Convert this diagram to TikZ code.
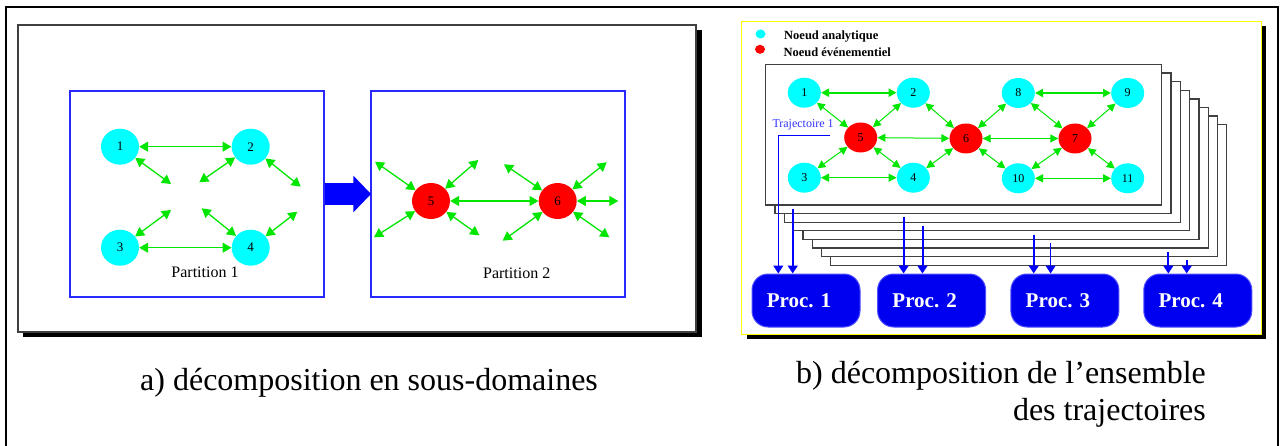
\documentclass[tikz,border=0pt]{standalone}
\usepackage{fontspec}
\setmainfont{Liberation Serif}
\usetikzlibrary{arrows.meta,shapes.geometric}
\definecolor{grn}{RGB}{0,230,0}
\definecolor{cyn}{RGB}{0,255,255}
\definecolor{rd}{RGB}{255,0,0}
\definecolor{bluebox}{RGB}{0,0,240}
\definecolor{blueedge}{RGB}{80,80,255}
\definecolor{partblue}{RGB}{40,40,255}
\definecolor{trajblue}{RGB}{50,50,255}
\definecolor{yel}{RGB}{255,255,0}
\begin{document}
\begin{tikzpicture}[x=1pt,y=-1pt,
  anode/.style={ellipse, fill=cyn, draw=none, minimum width=38pt, minimum height=36pt, inner sep=0pt, font=\fontsize{13}{13}\selectfont},
  enode/.style={anode, fill=rd},
  bnode/.style={ellipse, fill=cyn, draw=none, minimum width=33pt, minimum height=30pt, inner sep=0pt, font=\fontsize{12}{12}\selectfont},
  benode/.style={bnode, fill=rd},
  garrow/.style={draw=grn, line width=1.3pt, arrows={Triangle[length=9pt,width=10pt]-Triangle[length=9pt,width=10pt]}},
  gbarrow/.style={draw=grn, line width=1pt, arrows={Triangle[length=8pt,width=8pt]-Triangle[length=8pt,width=8pt]}},
  gbthick/.style={gbarrow, line width=2pt},
  partbox/.style={rectangle, draw=partblue, line width=1.3pt, fill=white, minimum width=254pt, minimum height=206pt, inner sep=0pt},
  stackrect/.style={draw=black!75, line width=1.3pt, fill=white},
  procbox/.style={rectangle, rounded corners=16pt, fill=bluebox, draw=blueedge, line width=1pt, minimum width=108pt, minimum height=53pt, inner sep=0pt, text=white, font=\bfseries\fontsize{21}{21}\selectfont},
  downarrow/.style={draw=blue, line width=2pt, arrows={-Triangle[length=8pt,width=10pt]}},
  downthin/.style={draw=blue, line width=1pt, arrows={-Triangle[length=8pt,width=10pt]}},
  lbl/.style={font=\fontsize{16}{16}\selectfont, inner sep=0pt},
  legend/.style={font=\bfseries\fontsize{12.5}{12.5}\selectfont, inner sep=0pt, anchor=west},
  caption/.style={font=\fontsize{32}{32}\selectfont, inner sep=0pt}
]
\useasboundingbox (0,0) rectangle (1284,446);
\fill[white] (0,0) rectangle (1284,446);
% outer frame
\draw[black, line width=2pt] (6,446) -- (6,7) -- (1278,7) -- (1278,446);

% ---------- panel a ----------
\fill[black] (23,30) rectangle (701.5,337);
\draw[draw=black!75, fill=white, line width=1.3pt] (18,25) rectangle (696,332);

\node[partbox] (part1) at (197,194) {};
\node[partbox] (part2) at (498,194) {};
\draw[blue, line width=21.7pt, arrows={-Triangle[length=17.7pt,width=35.6pt]}] (part1.east) -- ([xshift=0.7pt]part2.west);

\node[anode] (a1) at (120,146.7) {1};
\node[anode] (a2) at (250.7,146.7) {2};
\node[anode] (a3) at (120,247.7) {3};
\node[anode] (a4) at (250.7,247.7) {4};
\node[lbl] (p1lbl) at (205,272.7) {Partition 1};

\coordinate (f1) at (171,184);
\coordinate (f2) at (199.3,182.3);
\coordinate (f3) at (300.7,186.7);
\coordinate (f4) at (171,210);
\coordinate (f5) at (201.7,208.3);
\coordinate (f6) at (297.3,211.7);
\draw[garrow] (a1) -- (a2);
\draw[garrow] (a3) -- (a4);
\draw[garrow] (a1) -- (f1);
\draw[garrow] (a2) -- (f2);
\draw[garrow] (a2) -- (f3);
\draw[garrow] (a3) -- (f4);
\draw[garrow] (a4) -- (f5);
\draw[garrow] (a4) -- (f6);

\node[enode] (a5) at (431,201) {5};
\node[enode] (a6) at (557.7,201) {6};
\node[lbl] (p2lbl) at (516.7,273.3) {Partition 2};
\coordinate (g1) at (375,161.7);
\coordinate (g2) at (478.3,160);
\coordinate (g3) at (374,237.3);
\coordinate (g4) at (479.3,235.3);
\coordinate (h1) at (504,164.3);
\coordinate (h2) at (606.7,162.3);
\coordinate (h3) at (618.3,201);
\coordinate (h4) at (502.7,240.7);
\coordinate (h5) at (609.3,237.3);
\draw[garrow] (a5) -- (a6);
\foreach \c in {g1,g2,g3,g4} \draw[garrow] (a5) -- (\c);
\foreach \c in {h1,h2,h3,h4,h5} \draw[garrow] (a6) -- (\c);

% ---------- panel b ----------
\fill[black] (746.5,26) rectangle (1266,339);
\draw[draw=yel, fill=white, line width=1.5pt] (741.7,21.7) rectangle (1261.5,334.3);

\node[ellipse, fill=cyn, minimum width=10pt, minimum height=9pt, inner sep=0pt] (leg1) at (760.5,34) {};
\node[ellipse, fill=rd, minimum width=10pt, minimum height=9pt, inner sep=0pt] (leg2) at (760,49.3) {};
\node[legend] (legt1) at (784,36.5) {Noeud analytique};
\node[legend] (legt2) at (783.3,52) {Noeud événementiel};

\foreach \k in {7,6,5,4,3,2,1,0}
  \draw[stackrect] ({765.7+9.3*\k},{64.5+8.6*\k}) rectangle ({1161.7+9.3*\k},{205+8.6*\k});

\node[bnode] (b1) at (804.3,92.7) {1};
\node[bnode] (b2) at (913.3,92.7) {2};
\node[bnode] (b3) at (804.3,177.7) {3};
\node[bnode] (b4) at (913.3,177.7) {4};
\node[benode] (b5) at (860.7,137.5) {5};
\node[benode] (b6) at (966,138.5) {6};
\node[benode] (b7) at (1075,138.5) {7};
\node[bnode] (b8) at (1018.3,93) {8};
\node[bnode] (b9) at (1127.7,93) {9};
\node[bnode] (b10) at (1018.3,178.3) {10};
\node[bnode] (b11) at (1127.7,178.3) {11};

\draw[gbthick] (b1) -- (b2);
\draw[gbthick] (b8) -- (b9);
\draw[gbarrow] (b3) -- (b4);
\draw[gbarrow] (b10) -- (b11);
\foreach \c in {b1,b2,b3,b4} \draw[gbarrow] (b5) -- (\c);
\foreach \c in {b2,b4,b8,b10} \draw[gbarrow] (b6) -- (\c);
\foreach \c in {b8,b9,b10,b11} \draw[gbarrow] (b7) -- (\c);
\draw[gbarrow] (b5) -- (b6);
\draw[gbarrow] (b6) -- (b7);

\node[font=\fontsize{12}{12}\selectfont, text=trajblue, inner sep=0pt, anchor=west] (traj) at (772.3,125) {Trajectoire 1};

\node[procbox] (p1) at (806,300.5) {Proc. 1\hspace*{14pt}};
\node[procbox] (p2) at (931.6,300.5) {Proc. 2\hspace*{14pt}};
\node[procbox] (p3) at (1064.9,300.5) {Proc. 3\hspace*{14pt}};
\node[procbox] (p4) at (1197.8,300.5) {Proc. 4\hspace*{14pt}};

\coordinate (t1) at (830,135.7);
\coordinate (t1c) at (778.3,135.7);
\coordinate (s2) at (792.7,209);
\coordinate (s3) at (903.6,216.7);
\coordinate (s4) at (922.5,225.7);
\coordinate (s5) at (1033.7,234.7);
\coordinate (s6) at (1050.6,242.7);
\coordinate (s7) at (1168.3,251.7);
\coordinate (s8) at (1186.7,260);
\draw[downthin] (t1) -- (t1c) -- (t1c |- p1.north);
\draw[downarrow] (s2) -- (s2 |- p1.north);
\draw[downarrow] (s3) -- (s3 |- p2.north);
\draw[downarrow] (s4) -- (s4 |- p2.north);
\draw[downarrow] (s5) -- (s5 |- p3.north);
\draw[downthin] (s6) -- (s6 |- p3.north);
\draw[downarrow] (s7) -- (s7 |- p4.north);
\draw[downarrow] (s8) -- (s8 |- p4.north);

% ---------- captions ----------
\node[caption, anchor=base west] (capa) at (140,390) {a) décomposition en sous-domaines};
\node[caption, anchor=base east] (capb1) at (1206,383.3) {b) décomposition de l’ensemble};
\node[caption, anchor=base east] (capb2) at (1206,420) {des trajectoires};
\end{tikzpicture}
\end{document}
